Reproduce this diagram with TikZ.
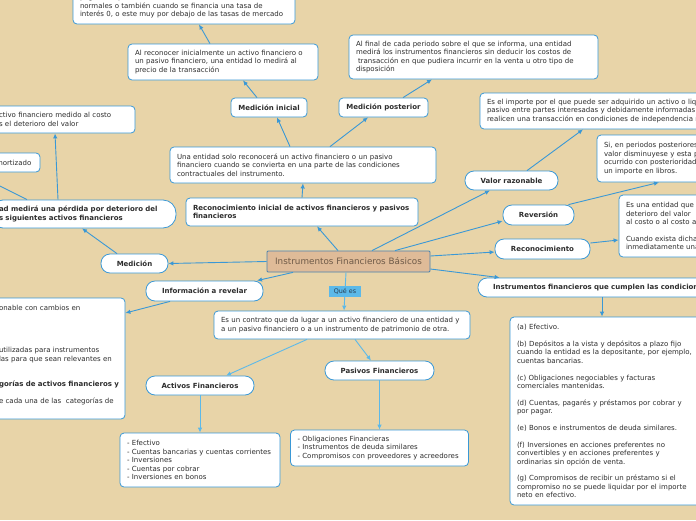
\documentclass[tikz,border=0pt]{standalone}
\usepackage{fontspec}
\setmainfont{DejaVu Sans}
\usepackage{tikz}
\usetikzlibrary{arrows.meta}
\definecolor{fondo}{RGB}{232,212,168}
\definecolor{azul}{RGB}{58,152,214}
\definecolor{celeste}{RGB}{92,185,233}
\definecolor{tierra}{RGB}{223,187,152}
\definecolor{borde}{RGB}{74,130,176}
\definecolor{cafe}{RGB}{110,90,72}
\definecolor{gris}{RGB}{45,45,45}
\definecolor{oscuro}{RGB}{40,62,82}

\begin{document}
\begin{tikzpicture}[x=1pt,y=-1pt,
  every node/.style={text=gris,font=\fontsize{7}{8.4}\selectfont},
  caja/.style={draw=azul,fill=white,line width=0.8pt,rounded corners=4pt,align=left,inner xsep=7pt,inner ysep=0pt},
  tit/.style={caja,font=\fontsize{7}{8.4}\selectfont\bfseries,align=center,inner xsep=2pt,minimum height=19pt},
  pill/.style={tit,rounded corners=9pt},
  quees/.style={fill=celeste,text=oscuro,inner sep=0pt,minimum width=32pt,minimum height=11pt,font=\fontsize{6.4}{7}\selectfont},
  flecha/.style={azul,line width=0.9pt,-{Latex[length=5pt,width=4.5pt]}},
  flechac/.style={flecha,celeste}]
\fill[fondo] (0,0) rectangle (696,520);
\useasboundingbox (0,0) rectangle (696,520);

\node[draw=borde,fill=tierra,line width=0.8pt,rounded corners=1pt,minimum width=163pt,minimum height=21pt,text=cafe,font=\fontsize{8.8}{10}\selectfont] (cen) at (348.5,261.5) {Instrumentos Financieros Básicos};

\node[caja,minimum width=222pt,minimum height=36pt,text width=208pt] (tasa) at (184,6) {pagos se aplazan más allá de los términos comerciales\\normales o también cuando se financia una tasa de\\interés 0, o este muy por debajo de las tasas de mercado};
\node[caja,minimum width=190pt,minimum height=36pt,text width=176pt] (alrec) at (223,62) {Al reconocer inicialmente un activo financiero o\\un pasivo financiero, una entidad lo medirá al\\precio de la transacción};
\node[caja,minimum width=249pt,minimum height=44pt,text width=235pt] (alfinal) at (473.5,57) {Al final de cada periodo sobre el que se informa, una entidad\\medirá los instrumentos financieros sin deducir los costos de\\\hspace*{2pt}transacción en que pudiera incurrir en la venta u otro tipo de\\disposición};
\node[tit,minimum width=76pt] (medini) at (269,107.5) {Medición inicial};
\node[tit,minimum width=89pt] (medpos) at (383.5,107.5) {Medición posterior};
\node[caja,minimum width=266pt,minimum height=36pt,text width=252pt] (unaent) at (303,165) {Una entidad solo reconocerá un activo financiero o un pasivo\\financiero cuando se convierta en una parte de las condiciones\\contractuales del instrumento.};
\node[caja,font=\fontsize{7}{8.4}\selectfont\bfseries,minimum width=232pt,minimum height=28pt,text width=218pt] (recini) at (302,212) {Reconocimiento inicial de activos financieros y pasivos\\financieros};

\node[caja,font=\fontsize{7}{8.4}\selectfont\bfseries,rounded corners=13pt,inner xsep=9pt,minimum width=186pt,minimum height=28pt,text width=168pt] (perdida) at (83,214) {ad medirá una pérdida por deterioro del\\s siguientes activos financieros};
\node[caja,inner xsep=9pt,minimum width=145pt,minimum height=27pt,text width=127pt] (costo) at (62.5,119.5) {ctivo financiero medido al costo\\s el deterioro del valor};
\node[caja,inner xsep=6pt,minimum width=50pt,minimum height=19pt,text width=38pt] (amort) at (15,162.5) {mortizado};
\coordinate (fuera) at (-40,166);
\node[pill,minimum width=67pt] (medicion) at (134.5,263.5) {Medición};
\node[pill,minimum width=117pt,minimum height=20pt] (info) at (204.5,291) {Información a revelar};
\node[caja,inner xsep=9pt,minimum width=135pt,minimum height=121pt,text width=117pt] (revel) at (57.5,358.5) {onable con cambios en\\\mbox{}\\\mbox{}\\\mbox{}\\\mbox{}\\utilizadas para instrumentos\\las para que sean relevantes en\\\mbox{}\\\mbox{}\\\mbox{\bfseries gorías de activos financieros y}\\\mbox{}\\e cada una de las\ \ categorías de\\\mbox{}};

\node[pill,minimum width=93pt] (valraz) at (511.5,180.5) {Valor razonable};
\node[caja,minimum width=300pt,minimum height=36pt,text width=286pt] (importe) at (630,111) {Es el importe por el que puede ser adquirido un activo o liquidado\\pasivo entre partes interesadas y debidamente informadas\\realicen una transacción en condiciones de independencia mutua};
\node[pill,minimum width=71pt,minimum height=20pt] (reversion) at (538.5,215) {Reversión};
\node[caja,minimum width=203pt,minimum height=47pt,text width=189pt] (si) at (698.5,158.5) {Si, en periodos posteriores,\\valor disminuyese y esta pudiera\\ocurrido con posterioridad\\un importe en libros.};
\node[pill,minimum width=95pt,minimum height=20pt] (recon) at (542.5,249) {Reconocimiento};
\node[caja,minimum width=201pt,minimum height=62pt,text width=187pt] (esuna) at (719.5,226) {Es una entidad que\\deterioro del valor\\al costo o al costo amortizado\\\mbox{}\\Cuando exista dicha\\inmediatamente una};
\node[caja,font=\fontsize{7}{8.4}\selectfont\bfseries,rounded corners=9pt,inner xsep=15pt,minimum width=302pt,minimum height=19pt,text width=272pt] (instr) at (629,287.5) {Instrumentos financieros que cumplen las condiciones};
\node[caja,minimum width=250pt,minimum height=188pt,text width=236pt] (lista) at (635,411) {(a) Efectivo.\\\mbox{}\\(b) Depósitos a la vista y depósitos a plazo fijo\\cuando la entidad es la depositante, por ejemplo,\\cuentas bancarias.\\\mbox{}\\(c) Obligaciones negociables y facturas\\comerciales mantenidas.\\\mbox{}\\(d) Cuentas, pagarés y préstamos por cobrar y\\por pagar.\\\mbox{}\\(e) Bonos e instrumentos de deuda similares.\\\mbox{}\\(f) Inversiones en acciones preferentes no\\convertibles y en acciones preferentes y\\ordinarias sin opción de venta.\\\mbox{}\\(g) Compromisos de recibir un préstamo si el\\compromiso no se puede liquidar por el importe\\neto en efectivo.};

\node[caja,minimum width=256pt,minimum height=28pt,text width=242pt] (contrato) at (342,325) {Es un contrato que da lugar a un activo financiero de una entidad y\\a un pasivo financiero o a un instrumento de patrimonio de otra.};
\node[pill,minimum width=108pt] (activos) at (200,385.5) {Activos Financieros};
\node[pill,minimum width=109pt] (pasivos) at (379.5,370.5) {Pasivos Financieros};
\node[caja,minimum width=160pt,minimum height=54pt,text width=146pt] (actlist) at (200,460) {- Efectivo\\- Cuentas bancarias y cuentas corrientes\\- Inversiones\\- Cuentas por cobrar\\- Inversiones en bonos};
\node[caja,minimum width=178pt,minimum height=36pt,text width=164pt] (paslist) at (379.5,448) {- Obligaciones Financieras\\- Instrumentos de deuda similares\\- Compromisos con proveedores y acreedores};

\draw[flecha] ([xshift=-13pt]alrec.north) -- ([xshift=15pt]tasa.south);
\draw[flecha] ([xshift=-12pt]medini.north) -- ([xshift=20pt]alrec.south);
\draw[flecha] ([xshift=19.5pt]medpos.north) -- ([xshift=-41.5pt]alfinal.south);
\draw[flecha] ([xshift=-13pt]unaent.north) -- ([xshift=8pt]medini.south);
\draw[flecha] ([xshift=27pt]unaent.north) -- ([xshift=-15.5pt]medpos.south);
\draw[flecha] (recini.north) -- (unaent.south);
\draw[flecha] ([xshift=-10.5pt]cen.north) -- ([xshift=15pt]recini.south);
\draw[flecha] (cen.west) -- (medicion.east);
\draw[flecha] ([xshift=-17.5pt]medicion.north) -- ([xshift=-1pt]perdida.south);
\draw[flecha] ([xshift=-25pt]perdida.north) -- ([xshift=-7.5pt]costo.south);
\draw[flecha] ([xshift=-56pt]perdida.north) -- (fuera);
\draw[flecha] ([xshift=-55.5pt]cen.south) -- ([xshift=52.5pt]info.north);
\draw[flecha] ([xshift=-34.5pt]info.south) -- ([yshift=45.5pt]revel.east);
\draw[flecha] ([xshift=23.5pt]cen.north) -- ([xshift=-21.5pt]valraz.south);
\draw[flecha] ([xshift=15.5pt]valraz.north) -- ([xshift=-47pt]importe.south);
\draw[flecha] ([xshift=46.5pt]cen.north) -- ([yshift=-6pt]reversion.west);
\draw[flecha] ([xshift=30pt]reversion.north) -- ([xshift=-39.5pt]si.south);
\draw[flecha] ([yshift=5.5pt]cen.east) -- ([yshift=-3pt]recon.west);
\draw[flecha] ([yshift=6pt]recon.east) -- ([yshift=-14pt]esuna.west);
\draw[flecha] ([yshift=-7.5pt]cen.east) -- ([xshift=22pt]instr.north west);
\draw[flecha] ([xshift=-27pt]instr.south) -- ([xshift=-33pt]lista.north);
\draw[flechac] ([xshift=-2.5pt]cen.south) -- node[quees] (qe) {Qué es} ([xshift=2pt]contrato.north);
\draw[flechac] ([xshift=-35pt]contrato.south) -- ([xshift=26pt]activos.north);
\draw[flechac] ([xshift=13pt]contrato.south) -- ([xshift=-8.5pt]pasivos.north);
\draw[flechac] (activos.south) -- (actlist.north);
\draw[flechac] (pasivos.south) -- (paslist.north);
\end{tikzpicture}
\end{document}
